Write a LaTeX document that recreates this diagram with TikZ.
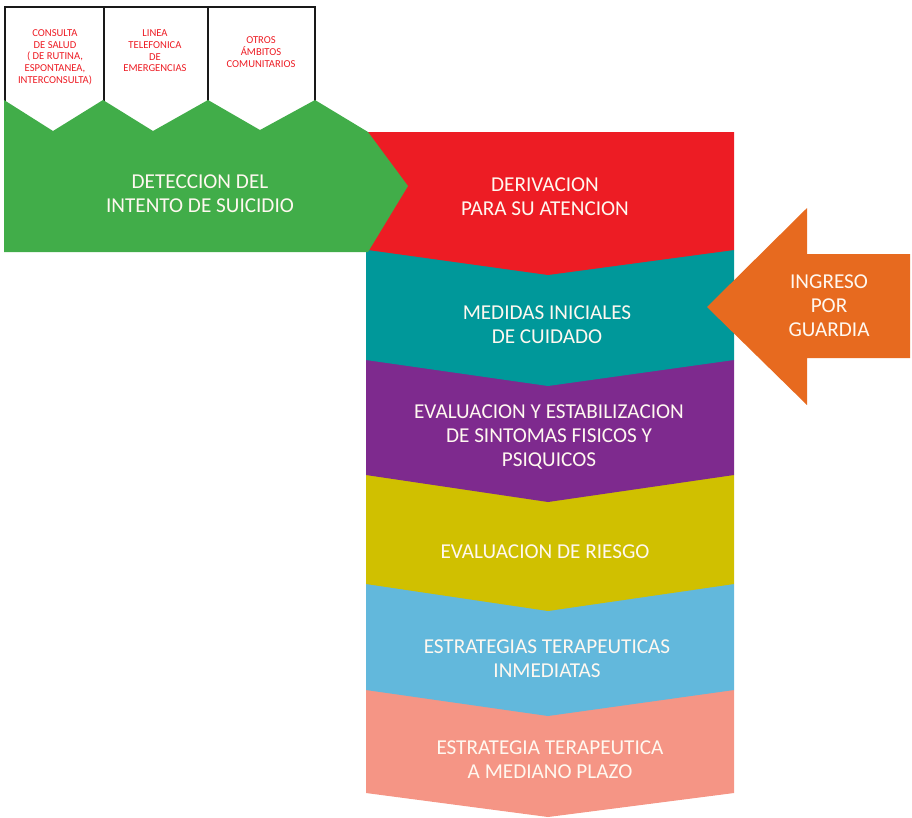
\documentclass[tikz,border=0pt]{standalone}
\usepackage{fontspec}
\setmainfont{Carlito}
\definecolor{cgreen}{HTML}{41AD49}
\definecolor{cred}{HTML}{ED1C24}
\definecolor{cteal}{HTML}{00989A}
\definecolor{cpurple}{HTML}{7E2A8E}
\definecolor{cyellow}{HTML}{D0C000}
\definecolor{cblue}{HTML}{62B8DC}
\definecolor{cpink}{HTML}{F59585}
\definecolor{corange}{HTML}{E76A1F}
\definecolor{ctext}{HTML}{FFF8F0}
\begin{document}
\begin{tikzpicture}[x=1pt,y=-1pt,
  bigtxt/.style={align=center,text=ctext,inner sep=0pt,font=\fontsize{21.2}{24}\selectfont},
  smalltxt/.style={align=center,text=cred,inner sep=0pt,font=\fontsize{10.6}{11.7}\selectfont},
  boxline/.style={draw=black!90,line width=2.6pt}]
\useasboundingbox (0,0) rectangle (912,817);
% column bands, bottom to top
\fill[cpink] (366,690) -- (734,690) -- (734,793) -- (548,817) -- (366,793) -- cycle;
\fill[cblue] (366,584) -- (734,584) -- (734,690) -- (548,716) -- (366,690) -- cycle;
\fill[cyellow] (366,475) -- (734,475) -- (734,584) -- (548,611) -- (366,584) -- cycle;
\fill[cpurple] (366,360) -- (734,360) -- (734,475) -- (548,502) -- (366,475) -- cycle;
\fill[cteal] (366,250) -- (734,250) -- (734,360) -- (548,386) -- (366,360) -- cycle;
\fill[cred] (368,132) -- (734,132) -- (734,250) -- (548,275) -- (368,250) -- cycle;
% top boxes
\draw[boxline] (5,101) -- (5,7) -- (315,7) -- (315,101);
\draw[boxline] (104,7) -- (104,101);
\draw[boxline] (208,7) -- (208,101);
% green arrow
\fill[cgreen] (4,100) -- (53,131) -- (103,100) -- (153,131) -- (208,100) -- (260,130) -- (315,100) -- (368,132) -- (408,186) -- (368,252) -- (4,252) -- cycle;
% orange arrow
\fill[corange] (707,307) -- (807,208) -- (807,254) -- (910,254) -- (910,358) -- (807,358) -- (807,405) -- cycle;
% texts
\node[smalltxt] (t1) at (55,57) {CONSULTA\\DE SALUD\\( DE RUTINA,\\ESPONTANEA,\\INTERCONSULTA)};
\node[smalltxt] (t2) at (155,51) {LINEA\\TELEFONICA\\DE\\EMERGENCIAS};
\node[smalltxt] (t3) at (261,52) {OTROS\\ÁMBITOS\\COMUNITARIOS};
\node[bigtxt] (det) at (200,194) {DETECCION DEL\\INTENTO DE SUICIDIO};
\node[bigtxt] (der) at (545,197) {DERIVACION\\PARA SU ATENCION};
\node[bigtxt] (med) at (547,325) {MEDIDAS INICIALES\\DE CUIDADO};
\node[bigtxt] (eva) at (549,437) {EVALUACION Y ESTABILIZACION\\DE SINTOMAS FISICOS Y\\PSIQUICOS};
\node[bigtxt] (rie) at (545,552) {EVALUACION DE RIESGO};
\node[bigtxt] (inm) at (547,659) {ESTRATEGIAS TERAPEUTICAS\\INMEDIATAS};
\node[bigtxt] (med2) at (550,760) {ESTRATEGIA TERAPEUTICA\\A MEDIANO PLAZO};
\node[bigtxt] (ing) at (829,306) {INGRESO\\POR\\GUARDIA};
\end{tikzpicture}
\end{document}
